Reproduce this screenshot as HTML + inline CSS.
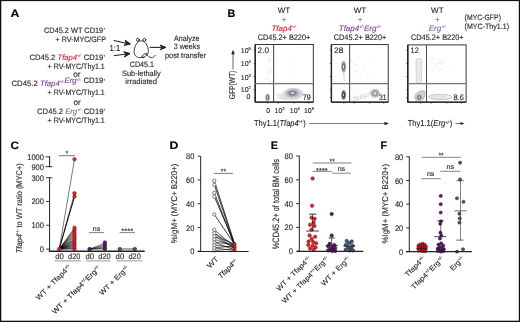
<!DOCTYPE html>
<html><head><meta charset="utf-8"><style>
html,body{margin:0;padding:0;background:#fff;}
svg{display:block;will-change:transform;}
text{font-family:"Liberation Sans", sans-serif;stroke-width:0.12px;}
</style></head><body>
<svg width="520" height="322" viewBox="0 0 520 322" font-family="Liberation Sans, sans-serif" text-rendering="geometricPrecision">
<defs>
<radialGradient id="gA" cx="0.5" cy="0.5" r="0.5">
<stop offset="0" stop-color="#eeeff0"/><stop offset="0.14" stop-color="#e3e5e7"/><stop offset="0.34" stop-color="#646c76"/><stop offset="0.55" stop-color="#838a93"/><stop offset="0.78" stop-color="#a8aeb5"/><stop offset="0.93" stop-color="#c3c7cc"/><stop offset="1" stop-color="#d6d9dc"/>
</radialGradient>
<radialGradient id="gD" cx="0.5" cy="0.5" r="0.5">
<stop offset="0" stop-color="#d9dbdd"/><stop offset="0.12" stop-color="#c8cbce"/><stop offset="0.32" stop-color="#3d434a"/><stop offset="0.6" stop-color="#555c64"/><stop offset="0.85" stop-color="#838a92"/><stop offset="1" stop-color="#adb2b8"/>
</radialGradient>
<radialGradient id="gB" cx="0.5" cy="0.5" r="0.5">
<stop offset="0" stop-color="#eff0f1"/><stop offset="0.15" stop-color="#e5e7e9"/><stop offset="0.36" stop-color="#8c939b"/><stop offset="0.6" stop-color="#a8aeb5"/><stop offset="0.85" stop-color="#cacdd1"/><stop offset="1" stop-color="#e3e5e7"/>
</radialGradient>
<radialGradient id="gC" cx="0.5" cy="0.5" r="0.5">
<stop offset="0" stop-color="#f3f4f5"/><stop offset="0.1" stop-color="#eceef0"/><stop offset="0.26" stop-color="#737b85"/><stop offset="0.45" stop-color="#959ca4"/><stop offset="0.7" stop-color="#b8bdc3"/><stop offset="0.9" stop-color="#ced2d6"/><stop offset="1" stop-color="#dbdee1"/>
</radialGradient>
<linearGradient id="gE" x1="0" y1="0" x2="1" y2="0">
<stop offset="0" stop-color="#e6e9ec"/><stop offset="1" stop-color="#cdd3d9"/>
</linearGradient>
</defs>
<rect width="520" height="322" fill="#fff"/>
<rect x="0" y="0" width="520" height="1.1" fill="#111"/>
<rect x="0" y="0" width="1.3" height="322" fill="#111"/>
<rect x="518.8" y="0" width="1.2" height="322" fill="#111"/>
<rect x="0" y="320.7" width="520" height="1.3" fill="#111"/>
<text x="10.6" y="17" font-size="10.8" font-weight="bold" fill="#000" textLength="8.9" lengthAdjust="spacingAndGlyphs" stroke="#000">A</text>
<text x="227.6" y="17" font-size="10.8" font-weight="bold" fill="#000" textLength="7.8" lengthAdjust="spacingAndGlyphs" stroke="#000">B</text>
<text x="10.4" y="149" font-size="10.8" font-weight="bold" fill="#000" textLength="8.5" lengthAdjust="spacingAndGlyphs" stroke="#000">C</text>
<text x="169.6" y="149" font-size="10.8" font-weight="bold" fill="#000" textLength="8.9" lengthAdjust="spacingAndGlyphs" stroke="#000">D</text>
<text x="270.8" y="149" font-size="10.8" font-weight="bold" fill="#000" textLength="7.2" lengthAdjust="spacingAndGlyphs" stroke="#000">E</text>
<text x="380.4" y="149" font-size="10.8" font-weight="bold" fill="#000" textLength="6.6" lengthAdjust="spacingAndGlyphs" stroke="#000">F</text>
<g font-size="7.8" fill="#231f20" stroke="#231f20">
<text x="44.0" y="33.0" textLength="61.4" lengthAdjust="spacingAndGlyphs">CD45.2 WT CD19<tspan dy="-2.7" font-size="4">+</tspan><tspan dy="2.7"></tspan></text>
<text x="55.5" y="42.0" textLength="50.5" lengthAdjust="spacingAndGlyphs">+ RV-MYC/GFP</text>
<text x="29.5" y="60.0" textLength="76.1" lengthAdjust="spacingAndGlyphs">CD45.2 <tspan font-style="italic" fill="#d4213d" stroke="#d4213d">Tfap4</tspan><tspan fill="#d4213d" stroke="#d4213d" dy="-2.7" font-size="4">+/-</tspan><tspan dy="2.7"> CD19</tspan><tspan dy="-2.7" font-size="4">+</tspan><tspan dy="2.7"></tspan></text>
<text x="47.6" y="69.0" textLength="57.2" lengthAdjust="spacingAndGlyphs">+ RV-MYC/Thy1.1</text>
<text x="11.5" y="86.0" textLength="94.1" lengthAdjust="spacingAndGlyphs">CD45.2 <tspan font-style="italic" fill="#7a3f97" stroke="#7a3f97">Tfap4</tspan><tspan fill="#7a3f97" stroke="#7a3f97" dy="-2.7" font-size="4">+/-</tspan><tspan dy="2.7"></tspan><tspan font-style="italic" fill="#7a3f97" stroke="#7a3f97">Erg</tspan><tspan fill="#7a3f97" stroke="#7a3f97" dy="-2.7" font-size="4">+/-</tspan><tspan dy="2.7"> CD19</tspan><tspan dy="-2.7" font-size="4">+</tspan><tspan dy="2.7"></tspan></text>
<text x="47.6" y="95.0" textLength="57.2" lengthAdjust="spacingAndGlyphs">+ RV-MYC/Thy1.1</text>
<text x="37.1" y="114.0" textLength="68.6" lengthAdjust="spacingAndGlyphs">CD45.2 <tspan font-style="italic" fill="#5f7691" stroke="#5f7691">Erg</tspan><tspan fill="#5f7691" stroke="#5f7691" dy="-2.7" font-size="4">+/-</tspan><tspan dy="2.7"> CD19</tspan><tspan dy="-2.7" font-size="4">+</tspan><tspan dy="2.7"></tspan></text>
<text x="47.6" y="123.0" textLength="57.2" lengthAdjust="spacingAndGlyphs">+ RV-MYC/Thy1.1</text>
<text x="76.8" y="77" text-anchor="middle" font-size="8.2">or</text>
<text x="77.1" y="105" text-anchor="middle" font-size="8.2">or</text>
<text x="109.6" y="51.4" font-size="8.6" textLength="10.6" lengthAdjust="spacingAndGlyphs">1:1</text>
<line x1="113.7" y1="40.6" x2="126.27" y2="43.14" stroke="#231f20" stroke-width="1.05"/>
<path d="M130.5,44.0 L124.08,45.46 L126.27,43.14 L125.15,40.16 Z" fill="#231f20"/>
<line x1="113.7" y1="55.8" x2="125.82" y2="54.10" stroke="#231f20" stroke-width="1.05"/>
<path d="M130.1,53.5 L124.53,57.01 L125.82,54.10 L123.78,51.66 Z" fill="#231f20"/>
<line x1="149.6" y1="47.4" x2="161.87" y2="47.40" stroke="#231f20" stroke-width="1.05"/>
<path d="M165.9,47.4 L160.30,49.70 L161.87,47.40 L160.30,45.10 Z" fill="#231f20"/>
<g fill="none" stroke="#231f20" stroke-width="0.85" stroke-linecap="round">
<path d="M138.6,41.3 C136.2,43.2 134.2,47.2 134.1,51.4 C134.0,55.2 136.3,57.6 140.0,57.6 C141.6,57.6 142.6,57.4 143.6,57.1"/>
<path d="M138.6,41.3 C140.3,40.7 142.0,40.7 143.6,41.3 C146.4,43.0 148.0,46.5 148.3,50.2 C148.5,52.4 148.0,54.0 147.0,54.8"/>
<circle cx="137.8" cy="39.8" r="1.45"/><circle cx="144.4" cy="39.8" r="1.45"/>
<ellipse cx="144.3" cy="55.6" rx="2.9" ry="1.35" transform="rotate(-38 144.3 55.6)"/>
<path d="M146.6,54.3 C147.6,55.8 149.3,57.6 151.3,57.6 C153.0,57.6 154.3,56.6 155.3,55.4"/>
</g>
<text x="129.8" y="66.9" textLength="24.2" lengthAdjust="spacingAndGlyphs">CD45.1</text>
<text x="122.1" y="75.8" textLength="38.5" lengthAdjust="spacingAndGlyphs">Sub-lethally</text>
<text x="125.2" y="83.8" textLength="31.9" lengthAdjust="spacingAndGlyphs">irradiated</text>
<text x="173.9" y="40.5" textLength="25.6" lengthAdjust="spacingAndGlyphs">Analyze</text>
<text x="173.7" y="49.2" textLength="26.3" lengthAdjust="spacingAndGlyphs">3 weeks</text>
<text x="165.0" y="57.6" textLength="41.2" lengthAdjust="spacingAndGlyphs">post transfer</text>
</g>
<g font-size="8.0" fill="#231f20" text-anchor="middle" stroke="#231f20">
<text x="284.0" y="13.0">WT</text>
<text x="284.0" y="21.6" font-size="7.2" fill="#777" stroke="#777">+</text>
<text x="284.0" y="30.8" font-style="italic" fill="#d4213d" stroke="#d4213d">Tfap4<tspan dy="-2.6" font-size="4.0">+/-</tspan><tspan dy="2.6"> </tspan></text>
<text x="284.0" y="39.7" textLength="52.5" lengthAdjust="spacingAndGlyphs">CD45.2+ B220+</text>
<text x="360.0" y="13.0">WT</text>
<text x="360.0" y="21.6" font-size="7.2" fill="#777" stroke="#777">+</text>
<text x="360.0" y="30.8" font-style="italic" fill="#7a3f97" stroke="#7a3f97">Tfap4<tspan dy="-2.6" font-size="4">+/-</tspan><tspan dy="2.6">Erg</tspan><tspan dy="-2.6" font-size="4">+/-</tspan><tspan dy="2.6"></tspan></text>
<text x="360.0" y="39.7" textLength="52.5" lengthAdjust="spacingAndGlyphs">CD45.2+ B220+</text>
<text x="437.3" y="13.0">WT</text>
<text x="437.3" y="21.6" font-size="7.2" fill="#777" stroke="#777">+</text>
<text x="437.3" y="30.8" font-style="italic" fill="#5f7691" stroke="#5f7691">Erg<tspan dy="-2.6" font-size="4.0">+/-</tspan><tspan dy="2.6"> </tspan></text>
<text x="437.3" y="39.7" textLength="52.5" lengthAdjust="spacingAndGlyphs">CD45.2+ B220+</text>
</g>
<text x="464.6" y="20.0" font-size="7.8" fill="#231f20" textLength="36.4" lengthAdjust="spacingAndGlyphs" stroke="#231f20">(MYC-GFP)</text>
<text x="464.6" y="28.8" font-size="7.8" fill="#231f20" textLength="44.4" lengthAdjust="spacingAndGlyphs" stroke="#231f20">(MYC-Thy1.1)</text>
<rect x="267.2" y="71.6" width="0.6" height="0.6" fill="#d0d6dc"/>
<rect x="267.8" y="73.1" width="0.6" height="0.6" fill="#d0d6dc"/>
<rect x="269.1" y="59.6" width="0.6" height="0.6" fill="#d0d6dc"/>
<rect x="266.1" y="78.9" width="0.6" height="0.6" fill="#d0d6dc"/>
<rect x="267.3" y="63.9" width="0.6" height="0.6" fill="#d0d6dc"/>
<rect x="271.0" y="69.8" width="0.6" height="0.6" fill="#d0d6dc"/>
<rect x="270.2" y="69.9" width="0.6" height="0.6" fill="#d0d6dc"/>
<rect x="269.2" y="61.8" width="0.6" height="0.6" fill="#d0d6dc"/>
<rect x="269.2" y="79.7" width="0.6" height="0.6" fill="#d0d6dc"/>
<rect x="268.6" y="76.5" width="0.6" height="0.6" fill="#d0d6dc"/>
<rect x="269.4" y="59.6" width="0.6" height="0.6" fill="#d0d6dc"/>
<rect x="269.8" y="72.8" width="0.6" height="0.6" fill="#d0d6dc"/>
<rect x="267.5" y="58.8" width="0.6" height="0.6" fill="#d0d6dc"/>
<rect x="270.3" y="69.8" width="0.6" height="0.6" fill="#d0d6dc"/>
<rect x="269.6" y="80.0" width="0.6" height="0.6" fill="#d0d6dc"/>
<rect x="269.6" y="81.0" width="0.6" height="0.6" fill="#d0d6dc"/>
<rect x="268.0" y="78.0" width="0.6" height="0.6" fill="#d0d6dc"/>
<rect x="268.2" y="81.4" width="0.6" height="0.6" fill="#d0d6dc"/>
<rect x="270.4" y="60.4" width="0.6" height="0.6" fill="#d0d6dc"/>
<rect x="266.7" y="63.4" width="0.6" height="0.6" fill="#d0d6dc"/>
<rect x="270.8" y="68.9" width="0.6" height="0.6" fill="#d0d6dc"/>
<rect x="269.1" y="65.5" width="0.6" height="0.6" fill="#d0d6dc"/>
<rect x="268.5" y="67.6" width="0.6" height="0.6" fill="#d0d6dc"/>
<rect x="267.8" y="72.6" width="0.6" height="0.6" fill="#d0d6dc"/>
<rect x="268.9" y="80.6" width="0.6" height="0.6" fill="#d0d6dc"/>
<rect x="269.4" y="81.2" width="0.6" height="0.6" fill="#d0d6dc"/>
<rect x="270.3" y="82.8" width="0.6" height="0.6" fill="#d0d6dc"/>
<rect x="269.4" y="62.1" width="0.6" height="0.6" fill="#d0d6dc"/>
<rect x="270.3" y="82.1" width="0.6" height="0.6" fill="#d0d6dc"/>
<rect x="270.5" y="72.2" width="0.6" height="0.6" fill="#d0d6dc"/>
<rect x="269.6" y="63.3" width="0.6" height="0.6" fill="#d0d6dc"/>
<rect x="270.2" y="72.3" width="0.6" height="0.6" fill="#d0d6dc"/>
<rect x="267.4" y="59.6" width="0.6" height="0.6" fill="#d0d6dc"/>
<rect x="270.3" y="82.7" width="0.6" height="0.6" fill="#d0d6dc"/>
<rect x="266.4" y="78.0" width="0.6" height="0.6" fill="#d0d6dc"/>
<rect x="268.1" y="61.8" width="0.6" height="0.6" fill="#d0d6dc"/>
<rect x="267.5" y="77.2" width="0.6" height="0.6" fill="#d0d6dc"/>
<rect x="270.4" y="59.1" width="0.6" height="0.6" fill="#d0d6dc"/>
<rect x="269.1" y="59.1" width="0.6" height="0.6" fill="#d0d6dc"/>
<rect x="269.6" y="66.3" width="0.6" height="0.6" fill="#d0d6dc"/>
<rect x="270.4" y="82.5" width="0.6" height="0.6" fill="#d0d6dc"/>
<rect x="268.5" y="83.0" width="0.6" height="0.6" fill="#d0d6dc"/>
<rect x="267.5" y="59.9" width="0.6" height="0.6" fill="#d0d6dc"/>
<rect x="269.0" y="58.8" width="0.6" height="0.6" fill="#d0d6dc"/>
<rect x="267.0" y="68.2" width="0.6" height="0.6" fill="#d0d6dc"/>
<rect x="269.1" y="61.9" width="0.6" height="0.6" fill="#d0d6dc"/>
<rect x="266.2" y="79.7" width="0.6" height="0.6" fill="#d0d6dc"/>
<rect x="267.6" y="82.0" width="0.6" height="0.6" fill="#d0d6dc"/>
<rect x="270.5" y="67.4" width="0.6" height="0.6" fill="#d0d6dc"/>
<rect x="268.3" y="71.0" width="0.6" height="0.6" fill="#d0d6dc"/>
<rect x="269.2" y="72.9" width="0.6" height="0.6" fill="#d0d6dc"/>
<rect x="268.8" y="73.5" width="0.6" height="0.6" fill="#d0d6dc"/>
<rect x="270.7" y="70.7" width="0.6" height="0.6" fill="#d0d6dc"/>
<rect x="268.2" y="76.0" width="0.6" height="0.6" fill="#d0d6dc"/>
<rect x="267.2" y="65.5" width="0.6" height="0.6" fill="#d0d6dc"/>
<rect x="297.5" y="70.4" width="0.6" height="0.6" fill="#dde1e6"/>
<rect x="288.1" y="60.2" width="0.6" height="0.6" fill="#dde1e6"/>
<rect x="285.1" y="71.6" width="0.6" height="0.6" fill="#dde1e6"/>
<rect x="276.4" y="72.3" width="0.6" height="0.6" fill="#dde1e6"/>
<rect x="289.9" y="61.2" width="0.6" height="0.6" fill="#dde1e6"/>
<rect x="289.8" y="69.3" width="0.6" height="0.6" fill="#dde1e6"/>
<rect x="290.9" y="67.1" width="0.6" height="0.6" fill="#dde1e6"/>
<rect x="291.6" y="74.8" width="0.6" height="0.6" fill="#dde1e6"/>
<rect x="276.5" y="61.2" width="0.6" height="0.6" fill="#dde1e6"/>
<rect x="290.9" y="79.3" width="0.6" height="0.6" fill="#dde1e6"/>
<rect x="281.5" y="69.1" width="0.6" height="0.6" fill="#dde1e6"/>
<rect x="289.0" y="66.4" width="0.6" height="0.6" fill="#dde1e6"/>
<rect x="284.0" y="66.3" width="0.6" height="0.6" fill="#dde1e6"/>
<rect x="284.1" y="71.9" width="0.6" height="0.6" fill="#dde1e6"/>
<rect x="278.3" y="95.0" width="0.6" height="0.6" fill="#c9d0d7"/>
<rect x="283.5" y="92.2" width="0.6" height="0.6" fill="#c9d0d7"/>
<rect x="281.3" y="97.9" width="0.6" height="0.6" fill="#c9d0d7"/>
<rect x="278.4" y="93.8" width="0.6" height="0.6" fill="#c9d0d7"/>
<rect x="283.8" y="93.9" width="0.6" height="0.6" fill="#c9d0d7"/>
<rect x="277.1" y="95.5" width="0.6" height="0.6" fill="#c9d0d7"/>
<rect x="282.7" y="92.8" width="0.6" height="0.6" fill="#c9d0d7"/>
<rect x="278.5" y="94.7" width="0.6" height="0.6" fill="#c9d0d7"/>
<rect x="284.2" y="95.5" width="0.6" height="0.6" fill="#c9d0d7"/>
<rect x="284.4" y="93.4" width="0.6" height="0.6" fill="#c9d0d7"/>
<rect x="278.7" y="97.2" width="0.6" height="0.6" fill="#c9d0d7"/>
<rect x="284.7" y="95.6" width="0.6" height="0.6" fill="#c9d0d7"/>
<rect x="277.5" y="93.0" width="0.6" height="0.6" fill="#c9d0d7"/>
<rect x="280.8" y="93.5" width="0.6" height="0.6" fill="#c9d0d7"/>
<rect x="283.9" y="98.7" width="0.6" height="0.6" fill="#c9d0d7"/>
<rect x="277.0" y="94.2" width="0.6" height="0.6" fill="#c9d0d7"/>
<rect x="283.9" y="97.1" width="0.6" height="0.6" fill="#c9d0d7"/>
<rect x="283.9" y="94.8" width="0.6" height="0.6" fill="#c9d0d7"/>
<rect x="276.4" y="94.3" width="0.6" height="0.6" fill="#c9d0d7"/>
<rect x="283.7" y="94.2" width="0.6" height="0.6" fill="#c9d0d7"/>
<rect x="278.8" y="95.3" width="0.6" height="0.6" fill="#c9d0d7"/>
<rect x="279.6" y="95.3" width="0.6" height="0.6" fill="#c9d0d7"/>
<rect x="285.1" y="93.2" width="0.6" height="0.6" fill="#c9d0d7"/>
<rect x="275.1" y="99.5" width="0.6" height="0.6" fill="#c9d0d7"/>
<rect x="284.7" y="99.9" width="0.6" height="0.6" fill="#c9d0d7"/>
<path d="M276.0,97.8 C279,95.5 283,90.8 288.5,88.6 C294,87 301.5,88.3 303.0,92.3 C304.2,96.5 298.5,100.0 291.5,100.1 C285,100.2 279.5,99.4 276.0,97.8 Z" fill="url(#gE)"/>
<ellipse cx="292.6" cy="93.2" rx="8.6" ry="5.2" fill="url(#gC)" opacity="1.0" transform="rotate(-4 292.6 93.2)"/>
<ellipse cx="267.6" cy="97.4" rx="2.5" ry="4.0" fill="url(#gA)" opacity="1.0"/>
<rect x="255.2" y="44.5" width="58.10000000000002" height="57.7" fill="none" stroke="#231f20" stroke-width="0.9"/>
<line x1="255.2" y1="44.5" x2="255.2" y2="102.2" stroke="#231f20" stroke-width="1.4"/>
<line x1="255.2" y1="102.2" x2="313.3" y2="102.2" stroke="#231f20" stroke-width="1.2"/>
<line x1="273.6" y1="44.5" x2="273.6" y2="102.2" stroke="#4a4a4a" stroke-width="1.05"/>
<line x1="255.2" y1="83.7" x2="313.3" y2="83.7" stroke="#777" stroke-width="1.2"/>
<line x1="253.6" y1="50.2" x2="255.2" y2="50.2" stroke="#231f20" stroke-width="0.6"/>
<line x1="253.6" y1="63.4" x2="255.2" y2="63.4" stroke="#231f20" stroke-width="0.6"/>
<line x1="253.6" y1="76.6" x2="255.2" y2="76.6" stroke="#231f20" stroke-width="0.6"/>
<line x1="253.6" y1="89.8" x2="255.2" y2="89.8" stroke="#231f20" stroke-width="0.6"/>
<line x1="253.6" y1="97.6" x2="255.2" y2="97.6" stroke="#231f20" stroke-width="0.6"/>
<line x1="268.0" y1="102.2" x2="268.0" y2="103.7" stroke="#231f20" stroke-width="0.6"/>
<line x1="278.4" y1="102.2" x2="278.4" y2="103.7" stroke="#231f20" stroke-width="0.6"/>
<line x1="294.1" y1="102.2" x2="294.1" y2="103.7" stroke="#231f20" stroke-width="0.6"/>
<line x1="308.7" y1="102.2" x2="308.7" y2="103.7" stroke="#231f20" stroke-width="0.6"/>
<rect x="360.1" y="78.9" width="0.6" height="0.6" fill="#d5dae0"/>
<rect x="370.5" y="62.9" width="0.6" height="0.6" fill="#d5dae0"/>
<rect x="366.7" y="76.4" width="0.6" height="0.6" fill="#d5dae0"/>
<rect x="364.9" y="69.4" width="0.6" height="0.6" fill="#d5dae0"/>
<rect x="357.1" y="65.5" width="0.6" height="0.6" fill="#d5dae0"/>
<rect x="355.8" y="59.5" width="0.6" height="0.6" fill="#d5dae0"/>
<rect x="363.4" y="64.3" width="0.6" height="0.6" fill="#d5dae0"/>
<rect x="368.0" y="59.0" width="0.6" height="0.6" fill="#d5dae0"/>
<rect x="370.0" y="73.3" width="0.6" height="0.6" fill="#d5dae0"/>
<rect x="370.4" y="77.7" width="0.6" height="0.6" fill="#d5dae0"/>
<rect x="369.9" y="70.7" width="0.6" height="0.6" fill="#d5dae0"/>
<rect x="351.3" y="74.4" width="0.6" height="0.6" fill="#d5dae0"/>
<rect x="354.6" y="64.6" width="0.6" height="0.6" fill="#d5dae0"/>
<rect x="364.9" y="69.5" width="0.6" height="0.6" fill="#d5dae0"/>
<rect x="359.7" y="78.7" width="0.6" height="0.6" fill="#d5dae0"/>
<rect x="363.9" y="65.5" width="0.6" height="0.6" fill="#d5dae0"/>
<rect x="356.3" y="77.0" width="0.6" height="0.6" fill="#d5dae0"/>
<rect x="361.0" y="75.2" width="0.6" height="0.6" fill="#d5dae0"/>
<rect x="353.5" y="61.6" width="0.6" height="0.6" fill="#cfd4d9"/>
<rect x="355.3" y="72.7" width="0.6" height="0.6" fill="#cfd4d9"/>
<rect x="351.7" y="72.3" width="0.6" height="0.6" fill="#cfd4d9"/>
<rect x="359.2" y="72.5" width="0.6" height="0.6" fill="#cfd4d9"/>
<rect x="358.2" y="58.1" width="0.6" height="0.6" fill="#cfd4d9"/>
<rect x="356.3" y="73.5" width="0.6" height="0.6" fill="#cfd4d9"/>
<rect x="350.5" y="62.9" width="0.6" height="0.6" fill="#cfd4d9"/>
<rect x="352.7" y="67.5" width="0.6" height="0.6" fill="#cfd4d9"/>
<rect x="354.2" y="66.5" width="0.6" height="0.6" fill="#cfd4d9"/>
<rect x="357.8" y="58.0" width="0.6" height="0.6" fill="#cfd4d9"/>
<rect x="350.5" y="60.3" width="0.6" height="0.6" fill="#cfd4d9"/>
<rect x="351.2" y="59.2" width="0.6" height="0.6" fill="#cfd4d9"/>
<rect x="359.7" y="73.4" width="0.6" height="0.6" fill="#cfd4d9"/>
<rect x="350.9" y="67.0" width="0.6" height="0.6" fill="#cfd4d9"/>
<rect x="353.2" y="63.7" width="0.6" height="0.6" fill="#cfd4d9"/>
<rect x="353.5" y="69.6" width="0.6" height="0.6" fill="#cfd4d9"/>
<rect x="355.9" y="64.5" width="0.6" height="0.6" fill="#cfd4d9"/>
<rect x="351.9" y="63.9" width="0.6" height="0.6" fill="#cfd4d9"/>
<rect x="351.2" y="68.0" width="0.6" height="0.6" fill="#cfd4d9"/>
<rect x="357.2" y="64.8" width="0.6" height="0.6" fill="#cfd4d9"/>
<rect x="350.8" y="61.2" width="0.6" height="0.6" fill="#cfd4d9"/>
<rect x="353.7" y="68.9" width="0.6" height="0.6" fill="#cfd4d9"/>
<rect x="357.8" y="64.8" width="0.6" height="0.6" fill="#cfd4d9"/>
<rect x="358.0" y="69.2" width="0.6" height="0.6" fill="#cfd4d9"/>
<rect x="354.3" y="64.7" width="0.6" height="0.6" fill="#cfd4d9"/>
<rect x="355.0" y="70.7" width="0.6" height="0.6" fill="#cfd4d9"/>
<rect x="354.2" y="70.5" width="0.6" height="0.6" fill="#cfd4d9"/>
<rect x="354.6" y="62.4" width="0.6" height="0.6" fill="#cfd4d9"/>
<rect x="355.4" y="70.5" width="0.6" height="0.6" fill="#cfd4d9"/>
<rect x="350.7" y="65.6" width="0.6" height="0.6" fill="#cfd4d9"/>
<rect x="359.9" y="98.3" width="0.6" height="0.6" fill="#cfd5dc"/>
<rect x="370.7" y="91.2" width="0.6" height="0.6" fill="#cfd5dc"/>
<rect x="369.9" y="97.1" width="0.6" height="0.6" fill="#cfd5dc"/>
<rect x="356.5" y="92.5" width="0.6" height="0.6" fill="#cfd5dc"/>
<rect x="353.6" y="97.4" width="0.6" height="0.6" fill="#cfd5dc"/>
<rect x="364.9" y="98.4" width="0.6" height="0.6" fill="#cfd5dc"/>
<rect x="367.6" y="95.3" width="0.6" height="0.6" fill="#cfd5dc"/>
<rect x="366.4" y="93.9" width="0.6" height="0.6" fill="#cfd5dc"/>
<rect x="353.2" y="94.2" width="0.6" height="0.6" fill="#cfd5dc"/>
<rect x="351.1" y="88.0" width="0.6" height="0.6" fill="#cfd5dc"/>
<rect x="367.3" y="86.6" width="0.6" height="0.6" fill="#cfd5dc"/>
<rect x="352.9" y="87.4" width="0.6" height="0.6" fill="#cfd5dc"/>
<rect x="369.5" y="88.5" width="0.6" height="0.6" fill="#cfd5dc"/>
<rect x="351.5" y="97.8" width="0.6" height="0.6" fill="#cfd5dc"/>
<rect x="353.5" y="97.8" width="0.6" height="0.6" fill="#cfd5dc"/>
<rect x="365.1" y="97.7" width="0.6" height="0.6" fill="#cfd5dc"/>
<rect x="371.0" y="94.1" width="0.6" height="0.6" fill="#cfd5dc"/>
<rect x="367.8" y="86.5" width="0.6" height="0.6" fill="#cfd5dc"/>
<rect x="367.1" y="93.2" width="0.6" height="0.6" fill="#cfd5dc"/>
<rect x="366.0" y="87.5" width="0.6" height="0.6" fill="#cfd5dc"/>
<rect x="366.7" y="99.1" width="0.6" height="0.6" fill="#cfd5dc"/>
<rect x="352.3" y="90.5" width="0.6" height="0.6" fill="#cfd5dc"/>
<rect x="362.8" y="97.6" width="0.6" height="0.6" fill="#cfd5dc"/>
<rect x="356.1" y="88.5" width="0.6" height="0.6" fill="#cfd5dc"/>
<rect x="356.2" y="94.6" width="0.6" height="0.6" fill="#cfd5dc"/>
<rect x="366.8" y="91.5" width="0.6" height="0.6" fill="#cfd5dc"/>
<rect x="358.7" y="91.6" width="0.6" height="0.6" fill="#cfd5dc"/>
<rect x="358.4" y="91.9" width="0.6" height="0.6" fill="#cfd5dc"/>
<rect x="352.7" y="93.0" width="0.6" height="0.6" fill="#cfd5dc"/>
<rect x="371.4" y="91.8" width="0.6" height="0.6" fill="#cfd5dc"/>
<rect x="366.7" y="88.2" width="0.6" height="0.6" fill="#cfd5dc"/>
<rect x="365.5" y="96.6" width="0.6" height="0.6" fill="#cfd5dc"/>
<rect x="365.2" y="93.2" width="0.6" height="0.6" fill="#cfd5dc"/>
<rect x="361.2" y="95.0" width="0.6" height="0.6" fill="#cfd5dc"/>
<rect x="369.8" y="88.1" width="0.6" height="0.6" fill="#cfd5dc"/>
<rect x="353.0" y="96.5" width="0.6" height="0.6" fill="#cfd5dc"/>
<rect x="370.2" y="93.2" width="0.6" height="0.6" fill="#cfd5dc"/>
<rect x="360.3" y="96.1" width="0.6" height="0.6" fill="#cfd5dc"/>
<rect x="354.9" y="89.7" width="0.6" height="0.6" fill="#cfd5dc"/>
<rect x="355.2" y="94.2" width="0.6" height="0.6" fill="#cfd5dc"/>
<rect x="357.6" y="89.3" width="0.6" height="0.6" fill="#cfd5dc"/>
<rect x="365.5" y="99.3" width="0.6" height="0.6" fill="#cfd5dc"/>
<rect x="357.2" y="95.9" width="0.6" height="0.6" fill="#cfd5dc"/>
<rect x="359.7" y="98.0" width="0.6" height="0.6" fill="#cfd5dc"/>
<rect x="363.3" y="89.7" width="0.6" height="0.6" fill="#cfd5dc"/>
<path d="M343.6,72 L344.4,81" stroke="#d9dee4" stroke-width="1.4"/>
<rect x="355.4" y="95.8" width="0.8" height="0.8" fill="#cdd3d9"/>
<rect x="360.6" y="96.0" width="0.8" height="0.8" fill="#cdd3d9"/>
<rect x="354.4" y="97.8" width="0.8" height="0.8" fill="#cdd3d9"/>
<rect x="357.4" y="98.9" width="0.8" height="0.8" fill="#cdd3d9"/>
<rect x="353.9" y="101.1" width="0.8" height="0.8" fill="#cdd3d9"/>
<rect x="360.6" y="97.1" width="0.8" height="0.8" fill="#cdd3d9"/>
<rect x="360.4" y="98.4" width="0.8" height="0.8" fill="#cdd3d9"/>
<rect x="367.4" y="94.9" width="0.8" height="0.8" fill="#cdd3d9"/>
<rect x="360.6" y="97.7" width="0.8" height="0.8" fill="#cdd3d9"/>
<rect x="368.1" y="93.9" width="0.8" height="0.8" fill="#cdd3d9"/>
<rect x="365.7" y="97.4" width="0.8" height="0.8" fill="#cdd3d9"/>
<rect x="360.3" y="95.3" width="0.8" height="0.8" fill="#cdd3d9"/>
<rect x="355.7" y="99.2" width="0.8" height="0.8" fill="#cdd3d9"/>
<rect x="364.5" y="97.7" width="0.8" height="0.8" fill="#cdd3d9"/>
<rect x="368.1" y="93.1" width="0.8" height="0.8" fill="#cdd3d9"/>
<rect x="354.8" y="97.2" width="0.8" height="0.8" fill="#cdd3d9"/>
<rect x="354.7" y="99.4" width="0.8" height="0.8" fill="#cdd3d9"/>
<rect x="368.2" y="96.3" width="0.8" height="0.8" fill="#cdd3d9"/>
<rect x="356.1" y="99.8" width="0.8" height="0.8" fill="#cdd3d9"/>
<rect x="357.3" y="97.2" width="0.8" height="0.8" fill="#cdd3d9"/>
<rect x="365.6" y="93.1" width="0.8" height="0.8" fill="#cdd3d9"/>
<rect x="352.9" y="100.6" width="0.8" height="0.8" fill="#cdd3d9"/>
<rect x="356.8" y="97.0" width="0.8" height="0.8" fill="#cdd3d9"/>
<rect x="362.6" y="96.9" width="0.8" height="0.8" fill="#cdd3d9"/>
<rect x="351.1" y="98.6" width="0.8" height="0.8" fill="#cdd3d9"/>
<rect x="359.7" y="96.8" width="0.8" height="0.8" fill="#cdd3d9"/>
<rect x="355.2" y="98.7" width="0.8" height="0.8" fill="#cdd3d9"/>
<rect x="370.1" y="93.2" width="0.8" height="0.8" fill="#cdd3d9"/>
<rect x="361.9" y="94.3" width="0.8" height="0.8" fill="#cdd3d9"/>
<rect x="356.5" y="98.7" width="0.8" height="0.8" fill="#cdd3d9"/>
<rect x="353.3" y="100.8" width="0.8" height="0.8" fill="#cdd3d9"/>
<rect x="369.2" y="92.0" width="0.8" height="0.8" fill="#cdd3d9"/>
<rect x="369.8" y="93.2" width="0.8" height="0.8" fill="#cdd3d9"/>
<rect x="366.4" y="96.2" width="0.8" height="0.8" fill="#cdd3d9"/>
<rect x="356.9" y="98.6" width="0.8" height="0.8" fill="#cdd3d9"/>
<rect x="364.1" y="97.1" width="0.8" height="0.8" fill="#cdd3d9"/>
<rect x="356.3" y="99.2" width="0.8" height="0.8" fill="#cdd3d9"/>
<rect x="370.2" y="94.6" width="0.8" height="0.8" fill="#cdd3d9"/>
<rect x="361.7" y="94.3" width="0.8" height="0.8" fill="#cdd3d9"/>
<rect x="360.9" y="95.8" width="0.8" height="0.8" fill="#cdd3d9"/>
<rect x="365.4" y="96.1" width="0.8" height="0.8" fill="#cdd3d9"/>
<rect x="362.3" y="94.5" width="0.8" height="0.8" fill="#cdd3d9"/>
<rect x="363.9" y="96.3" width="0.8" height="0.8" fill="#cdd3d9"/>
<rect x="354.6" y="100.4" width="0.8" height="0.8" fill="#cdd3d9"/>
<rect x="364.1" y="93.7" width="0.8" height="0.8" fill="#cdd3d9"/>
<rect x="369.6" y="92.1" width="0.8" height="0.8" fill="#cdd3d9"/>
<rect x="357.6" y="98.6" width="0.8" height="0.8" fill="#cdd3d9"/>
<rect x="362.9" y="96.2" width="0.8" height="0.8" fill="#cdd3d9"/>
<rect x="363.9" y="95.4" width="0.8" height="0.8" fill="#cdd3d9"/>
<rect x="357.2" y="96.0" width="0.8" height="0.8" fill="#cdd3d9"/>
<rect x="352.4" y="100.2" width="0.8" height="0.8" fill="#cdd3d9"/>
<rect x="366.1" y="95.2" width="0.8" height="0.8" fill="#cdd3d9"/>
<rect x="365.8" y="94.4" width="0.8" height="0.8" fill="#cdd3d9"/>
<rect x="356.3" y="97.3" width="0.8" height="0.8" fill="#cdd3d9"/>
<rect x="368.5" y="92.0" width="0.8" height="0.8" fill="#cdd3d9"/>
<rect x="361.1" y="95.2" width="0.8" height="0.8" fill="#cdd3d9"/>
<rect x="366.4" y="94.2" width="0.8" height="0.8" fill="#cdd3d9"/>
<rect x="357.7" y="97.0" width="0.8" height="0.8" fill="#cdd3d9"/>
<rect x="361.8" y="97.6" width="0.8" height="0.8" fill="#cdd3d9"/>
<rect x="358.1" y="99.1" width="0.8" height="0.8" fill="#cdd3d9"/>
<rect x="353.2" y="97.7" width="0.8" height="0.8" fill="#cdd3d9"/>
<rect x="353.0" y="97.0" width="0.8" height="0.8" fill="#cdd3d9"/>
<rect x="366.6" y="96.0" width="0.8" height="0.8" fill="#cdd3d9"/>
<rect x="354.7" y="96.8" width="0.8" height="0.8" fill="#cdd3d9"/>
<rect x="359.3" y="98.2" width="0.8" height="0.8" fill="#cdd3d9"/>
<rect x="367.3" y="95.8" width="0.8" height="0.8" fill="#cdd3d9"/>
<rect x="362.8" y="94.2" width="0.8" height="0.8" fill="#cdd3d9"/>
<rect x="359.0" y="95.6" width="0.8" height="0.8" fill="#cdd3d9"/>
<rect x="361.6" y="96.7" width="0.8" height="0.8" fill="#cdd3d9"/>
<rect x="355.0" y="97.0" width="0.8" height="0.8" fill="#cdd3d9"/>
<ellipse cx="343.6" cy="66.8" rx="2.7" ry="6.3" fill="url(#gA)" opacity="1.0"/>
<ellipse cx="343.6" cy="95.0" rx="2.5" ry="5.0" fill="url(#gD)" opacity="1.0"/>
<ellipse cx="375.0" cy="93.3" rx="5.2" ry="4.8" fill="url(#gB)" opacity="1.0"/>
<rect x="331.4" y="44.6" width="56.80000000000001" height="57.6" fill="none" stroke="#231f20" stroke-width="0.9"/>
<line x1="331.4" y1="44.6" x2="331.4" y2="102.2" stroke="#231f20" stroke-width="1.4"/>
<line x1="331.4" y1="102.2" x2="388.2" y2="102.2" stroke="#231f20" stroke-width="1.2"/>
<line x1="349.6" y1="44.6" x2="349.6" y2="102.2" stroke="#4a4a4a" stroke-width="1.05"/>
<line x1="331.4" y1="83.7" x2="388.2" y2="83.7" stroke="#777" stroke-width="1.2"/>
<line x1="329.79999999999995" y1="50.2" x2="331.4" y2="50.2" stroke="#231f20" stroke-width="0.6"/>
<line x1="329.79999999999995" y1="63.4" x2="331.4" y2="63.4" stroke="#231f20" stroke-width="0.6"/>
<line x1="329.79999999999995" y1="76.6" x2="331.4" y2="76.6" stroke="#231f20" stroke-width="0.6"/>
<line x1="329.79999999999995" y1="89.8" x2="331.4" y2="89.8" stroke="#231f20" stroke-width="0.6"/>
<line x1="329.79999999999995" y1="97.6" x2="331.4" y2="97.6" stroke="#231f20" stroke-width="0.6"/>
<line x1="343.9" y1="102.2" x2="343.9" y2="103.7" stroke="#231f20" stroke-width="0.6"/>
<line x1="354.1" y1="102.2" x2="354.1" y2="103.7" stroke="#231f20" stroke-width="0.6"/>
<line x1="369.5" y1="102.2" x2="369.5" y2="103.7" stroke="#231f20" stroke-width="0.6"/>
<line x1="383.7" y1="102.2" x2="383.7" y2="103.7" stroke="#231f20" stroke-width="0.6"/>
<rect x="441.3" y="57.4" width="0.6" height="0.6" fill="#ccd2d9"/>
<rect x="441.7" y="68.6" width="0.6" height="0.6" fill="#ccd2d9"/>
<rect x="444.1" y="62.0" width="0.6" height="0.6" fill="#ccd2d9"/>
<rect x="437.4" y="64.6" width="0.6" height="0.6" fill="#ccd2d9"/>
<rect x="438.8" y="69.7" width="0.6" height="0.6" fill="#ccd2d9"/>
<rect x="439.7" y="60.9" width="0.6" height="0.6" fill="#ccd2d9"/>
<rect x="442.6" y="63.3" width="0.6" height="0.6" fill="#ccd2d9"/>
<rect x="438.2" y="66.4" width="0.6" height="0.6" fill="#ccd2d9"/>
<rect x="428.0" y="67.0" width="0.6" height="0.6" fill="#ccd2d9"/>
<rect x="439.3" y="63.4" width="0.6" height="0.6" fill="#ccd2d9"/>
<rect x="436.9" y="63.0" width="0.6" height="0.6" fill="#ccd2d9"/>
<rect x="431.3" y="63.9" width="0.6" height="0.6" fill="#ccd2d9"/>
<rect x="428.6" y="63.5" width="0.6" height="0.6" fill="#ccd2d9"/>
<rect x="439.0" y="62.8" width="0.6" height="0.6" fill="#ccd2d9"/>
<rect x="437.6" y="69.5" width="0.6" height="0.6" fill="#ccd2d9"/>
<rect x="443.2" y="58.8" width="0.6" height="0.6" fill="#ccd2d9"/>
<rect x="441.5" y="65.1" width="0.6" height="0.6" fill="#ccd2d9"/>
<rect x="428.9" y="61.7" width="0.6" height="0.6" fill="#ccd2d9"/>
<rect x="432.0" y="58.0" width="0.6" height="0.6" fill="#ccd2d9"/>
<rect x="437.2" y="69.1" width="0.6" height="0.6" fill="#ccd2d9"/>
<rect x="433.5" y="68.3" width="0.6" height="0.6" fill="#ccd2d9"/>
<rect x="439.8" y="58.7" width="0.6" height="0.6" fill="#ccd2d9"/>
<rect x="442.6" y="64.8" width="0.6" height="0.6" fill="#ccd2d9"/>
<rect x="443.8" y="66.3" width="0.6" height="0.6" fill="#ccd2d9"/>
<rect x="440.6" y="61.5" width="0.6" height="0.6" fill="#ccd2d9"/>
<rect x="441.7" y="69.1" width="0.6" height="0.6" fill="#ccd2d9"/>
<rect x="442.6" y="62.7" width="0.6" height="0.6" fill="#ccd2d9"/>
<rect x="440.9" y="63.3" width="0.6" height="0.6" fill="#ccd2d9"/>
<rect x="429.9" y="57.6" width="0.6" height="0.6" fill="#ccd2d9"/>
<rect x="429.3" y="59.6" width="0.6" height="0.6" fill="#ccd2d9"/>
<rect x="430.7" y="63.5" width="0.6" height="0.6" fill="#ccd2d9"/>
<rect x="439.9" y="64.0" width="0.6" height="0.6" fill="#ccd2d9"/>
<rect x="435.2" y="65.4" width="0.6" height="0.6" fill="#ccd2d9"/>
<rect x="433.2" y="63.0" width="0.6" height="0.6" fill="#ccd2d9"/>
<rect x="440.9" y="62.2" width="0.6" height="0.6" fill="#ccd2d9"/>
<rect x="431.1" y="68.7" width="0.6" height="0.6" fill="#ccd2d9"/>
<rect x="440.2" y="61.8" width="0.6" height="0.6" fill="#ccd2d9"/>
<rect x="434.3" y="63.9" width="0.6" height="0.6" fill="#ccd2d9"/>
<rect x="438.1" y="59.9" width="0.6" height="0.6" fill="#ccd2d9"/>
<rect x="428.0" y="59.7" width="0.6" height="0.6" fill="#ccd2d9"/>
<rect x="441.3" y="58.9" width="0.6" height="0.6" fill="#ccd2d9"/>
<rect x="435.8" y="59.5" width="0.6" height="0.6" fill="#ccd2d9"/>
<rect x="431.6" y="59.2" width="0.6" height="0.6" fill="#ccd2d9"/>
<rect x="434.9" y="59.2" width="0.6" height="0.6" fill="#ccd2d9"/>
<rect x="428.5" y="58.4" width="0.6" height="0.6" fill="#ccd2d9"/>
<rect x="432.5" y="70.8" width="0.6" height="0.6" fill="#d6dbe0"/>
<rect x="429.6" y="60.5" width="0.6" height="0.6" fill="#d6dbe0"/>
<rect x="440.1" y="69.0" width="0.6" height="0.6" fill="#d6dbe0"/>
<rect x="447.0" y="61.1" width="0.6" height="0.6" fill="#d6dbe0"/>
<rect x="438.9" y="68.7" width="0.6" height="0.6" fill="#d6dbe0"/>
<rect x="428.7" y="81.2" width="0.6" height="0.6" fill="#d6dbe0"/>
<rect x="433.9" y="62.1" width="0.6" height="0.6" fill="#d6dbe0"/>
<rect x="440.8" y="63.6" width="0.6" height="0.6" fill="#d6dbe0"/>
<rect x="444.8" y="67.6" width="0.6" height="0.6" fill="#d6dbe0"/>
<rect x="431.3" y="61.1" width="0.6" height="0.6" fill="#d6dbe0"/>
<rect x="447.6" y="66.1" width="0.6" height="0.6" fill="#d6dbe0"/>
<rect x="449.3" y="70.2" width="0.6" height="0.6" fill="#d6dbe0"/>
<rect x="453.2" y="66.6" width="0.6" height="0.6" fill="#d6dbe0"/>
<rect x="434.7" y="65.8" width="0.6" height="0.6" fill="#d6dbe0"/>
<rect x="450.0" y="73.8" width="0.6" height="0.6" fill="#d6dbe0"/>
<rect x="437.3" y="62.1" width="0.6" height="0.6" fill="#d6dbe0"/>
<rect x="446.4" y="81.3" width="0.6" height="0.6" fill="#d6dbe0"/>
<rect x="444.0" y="60.1" width="0.6" height="0.6" fill="#d6dbe0"/>
<rect x="428.8" y="62.0" width="0.6" height="0.6" fill="#d6dbe0"/>
<rect x="432.6" y="60.8" width="0.6" height="0.6" fill="#d6dbe0"/>
<rect x="429.5" y="74.4" width="0.6" height="0.6" fill="#d6dbe0"/>
<rect x="452.3" y="64.4" width="0.6" height="0.6" fill="#d6dbe0"/>
<rect x="454.3" y="70.5" width="0.6" height="0.6" fill="#d6dbe0"/>
<rect x="449.7" y="80.2" width="0.6" height="0.6" fill="#d6dbe0"/>
<rect x="453.4" y="60.8" width="0.6" height="0.6" fill="#d6dbe0"/>
<rect x="418.8" y="88.0" width="0.6" height="0.6" fill="#cfd5dc"/>
<rect x="422.7" y="85.4" width="0.6" height="0.6" fill="#cfd5dc"/>
<rect x="418.8" y="89.2" width="0.6" height="0.6" fill="#cfd5dc"/>
<rect x="417.7" y="86.9" width="0.6" height="0.6" fill="#cfd5dc"/>
<rect x="419.0" y="88.4" width="0.6" height="0.6" fill="#cfd5dc"/>
<rect x="422.6" y="85.9" width="0.6" height="0.6" fill="#cfd5dc"/>
<path d="M416.0,60.5 C416.0,59.2 417.3,58.6 418.8,58.7 C420.6,58.8 421.8,59.4 421.8,61 L421.5,81.5 C421.5,82.6 420.5,83.0 418.9,83.0 C417.2,83.0 416.3,82.5 416.3,81.3 Z" fill="#eef0f2" stroke="#bcc4cd" stroke-width="0.7"/>
<path d="M417.8,62 L418,80 M419.8,62 L419.6,80" stroke="#d3d8de" stroke-width="0.6"/>
<path d="M414.8,98 C414.6,94.5 417,92 420.5,91 C423,90.3 425.2,90.5 425,92.5 C424.8,95.5 424.5,99.2 421.5,100.6 C418.5,101.6 415,100.8 414.8,98 Z" fill="#c9d0d7" stroke="#98a3af" stroke-width="0.6"/>
<ellipse cx="419.2" cy="97.2" rx="3.2" ry="3.3" fill="url(#gA)" opacity="1.0"/>
<ellipse cx="440.2" cy="97.0" rx="12.0" ry="2.6" fill="#eceff2" stroke="#aab4bf" stroke-width="0.7"/>
<ellipse cx="438" cy="97.1" rx="7.5" ry="1.1" fill="none" stroke="#c3cad2" stroke-width="0.5"/>
<rect x="407.8" y="44.9" width="58.30000000000001" height="57.300000000000004" fill="none" stroke="#231f20" stroke-width="0.9"/>
<line x1="407.8" y1="44.9" x2="407.8" y2="102.2" stroke="#231f20" stroke-width="1.4"/>
<line x1="407.8" y1="102.2" x2="466.1" y2="102.2" stroke="#231f20" stroke-width="1.2"/>
<line x1="426.5" y1="44.9" x2="426.5" y2="102.2" stroke="#4a4a4a" stroke-width="1.05"/>
<line x1="407.8" y1="83.7" x2="466.1" y2="83.7" stroke="#777" stroke-width="1.2"/>
<line x1="406.2" y1="50.2" x2="407.8" y2="50.2" stroke="#231f20" stroke-width="0.6"/>
<line x1="406.2" y1="63.4" x2="407.8" y2="63.4" stroke="#231f20" stroke-width="0.6"/>
<line x1="406.2" y1="76.6" x2="407.8" y2="76.6" stroke="#231f20" stroke-width="0.6"/>
<line x1="406.2" y1="89.8" x2="407.8" y2="89.8" stroke="#231f20" stroke-width="0.6"/>
<line x1="406.2" y1="97.6" x2="407.8" y2="97.6" stroke="#231f20" stroke-width="0.6"/>
<line x1="420.6" y1="102.2" x2="420.6" y2="103.7" stroke="#231f20" stroke-width="0.6"/>
<line x1="431.1" y1="102.2" x2="431.1" y2="103.7" stroke="#231f20" stroke-width="0.6"/>
<line x1="446.9" y1="102.2" x2="446.9" y2="103.7" stroke="#231f20" stroke-width="0.6"/>
<line x1="461.4" y1="102.2" x2="461.4" y2="103.7" stroke="#231f20" stroke-width="0.6"/>
<g font-size="8.0" fill="#231f20" stroke="#231f20">
<text x="257.6" y="52.7" textLength="11.4" lengthAdjust="spacingAndGlyphs">2.0</text>
<text x="302.7" y="99.9" textLength="8" lengthAdjust="spacingAndGlyphs">79</text>
<text x="334.0" y="52.8" textLength="9.3" lengthAdjust="spacingAndGlyphs">28</text>
<text x="379.0" y="99.9" textLength="7.5" lengthAdjust="spacingAndGlyphs">31</text>
<text x="410.6" y="53.0" textLength="8.1" lengthAdjust="spacingAndGlyphs">12</text>
<text x="453.4" y="99.9" textLength="10.4" lengthAdjust="spacingAndGlyphs">8.6</text>
</g>
<g font-size="7.0" fill="#231f20" text-anchor="end" stroke="#231f20">
<text x="250.9" y="52.7">10<tspan dy="-2.7" font-size="4.2">5</tspan></text>
<text x="250.9" y="65.9">10<tspan dy="-2.7" font-size="4.2">4</tspan></text>
<text x="250.9" y="79.6">10<tspan dy="-2.7" font-size="4.2">3</tspan></text>
<text x="250.9" y="92.1">10<tspan dy="-2.7" font-size="4.2">2</tspan></text>
<text x="250.3" y="99.4">0</text>
</g>
<g font-size="7.0" fill="#231f20" stroke="#231f20">
<text x="266.3" y="112.6">0</text>
<text x="274.5" y="112.6">10<tspan dy="-2.7" font-size="4.2">3</tspan></text>
<text x="289.8" y="112.6">10<tspan dy="-2.7" font-size="4.2">4</tspan></text>
<text x="303.9" y="112.6">10<tspan dy="-2.7" font-size="4.2">5</tspan></text>
</g>
<text transform="translate(235.3,99.3) rotate(-90)" font-size="8.4" fill="#231f20" textLength="28.5" lengthAdjust="spacingAndGlyphs" stroke="#231f20">GFP(WT)</text>
<line x1="233" y1="69.5" x2="233" y2="53.5" stroke="#333" stroke-width="0.75"/>
<path d="M233,49.8 L231.2,54.3 L234.8,54.3 Z" fill="#231f20"/>
<text x="254" y="125.8" font-size="8.6" fill="#231f20" textLength="51.8" lengthAdjust="spacingAndGlyphs" stroke="#231f20">Thy1.1(<tspan font-style="italic">Tfap4</tspan><tspan dy="-2.8" font-size="4.4">+/-</tspan><tspan dy="2.8">)</tspan></text>
<line x1="309.2" y1="123.5" x2="385" y2="123.5" stroke="#231f20" stroke-width="0.6"/>
<path d="M388.9,123.5 L384.5,121.8 L384.5,125.2 Z" fill="#231f20"/>
<text x="407.7" y="126.4" font-size="8.6" fill="#231f20" textLength="44.6" lengthAdjust="spacingAndGlyphs" stroke="#231f20">Thy1.1(<tspan font-style="italic">Erg</tspan><tspan dy="-2.8" font-size="4.4">+/-</tspan><tspan dy="2.8">)</tspan></text>
<line x1="455.4" y1="123.5" x2="461" y2="123.5" stroke="#231f20" stroke-width="0.6"/>
<path d="M464.4,123.5 L460.5,121.9 L460.5,125.1 Z" fill="#231f20"/>
<line x1="50.5" y1="249.2" x2="144" y2="249.2" stroke="#9a9a9a" stroke-width="0.6" stroke-dasharray="0.7,2.3"/>
<line x1="59.2" y1="249.1" x2="74.5" y2="249.1" stroke="#000" stroke-width="0.45" />
<line x1="59.2" y1="249.1" x2="74.5" y2="248.386" stroke="#000" stroke-width="0.45" />
<line x1="59.2" y1="249.1" x2="74.5" y2="247.672" stroke="#000" stroke-width="0.45" />
<line x1="59.2" y1="249.1" x2="74.5" y2="246.72" stroke="#000" stroke-width="0.45" />
<line x1="59.2" y1="249.1" x2="74.5" y2="246.006" stroke="#000" stroke-width="0.45" />
<line x1="59.2" y1="249.1" x2="74.5" y2="245.292" stroke="#000" stroke-width="0.45" />
<line x1="59.2" y1="249.1" x2="74.5" y2="244.34" stroke="#000" stroke-width="0.45" />
<line x1="59.2" y1="249.1" x2="74.5" y2="243.626" stroke="#000" stroke-width="0.45" />
<line x1="59.2" y1="249.1" x2="74.5" y2="242.912" stroke="#000" stroke-width="0.45" />
<line x1="59.2" y1="249.1" x2="74.5" y2="241.96" stroke="#000" stroke-width="0.45" />
<line x1="59.2" y1="249.1" x2="74.5" y2="241.00799999999998" stroke="#000" stroke-width="0.45" />
<line x1="59.2" y1="249.1" x2="74.5" y2="240.05599999999998" stroke="#000" stroke-width="0.45" />
<line x1="59.2" y1="249.1" x2="74.5" y2="239.57999999999998" stroke="#000" stroke-width="0.45" />
<line x1="59.2" y1="249.1" x2="74.5" y2="238.628" stroke="#000" stroke-width="0.45" />
<line x1="59.2" y1="249.1" x2="74.5" y2="237.2" stroke="#000" stroke-width="0.45" />
<line x1="59.2" y1="249.1" x2="74.5" y2="236.01" stroke="#000" stroke-width="0.45" />
<line x1="59.2" y1="249.1" x2="74.5" y2="234.82" stroke="#000" stroke-width="0.45" />
<line x1="59.2" y1="249.1" x2="74.5" y2="233.63" stroke="#000" stroke-width="0.45" />
<line x1="59.2" y1="249.1" x2="74.5" y2="232.44" stroke="#000" stroke-width="0.45" />
<line x1="59.2" y1="249.1" x2="74.5" y2="231.25" stroke="#000" stroke-width="0.45" />
<line x1="59.2" y1="249.1" x2="74.5" y2="230.06" stroke="#000" stroke-width="0.45" />
<line x1="59.2" y1="249.1" x2="74.5" y2="228.87" stroke="#000" stroke-width="0.45" />
<line x1="59.2" y1="249.1" x2="74.5" y2="227.68" stroke="#000" stroke-width="0.45" />
<line x1="59.2" y1="249.1" x2="74.5" y2="196.502" stroke="#000" stroke-width="1.0" />
<line x1="59.2" y1="249.1" x2="74.5" y2="193.17" stroke="#111" stroke-width="0.55" />
<line x1="59.2" y1="249.1" x2="74.5" y2="159.27499999999998" stroke="#222" stroke-width="0.6" />
<circle cx="59.20" cy="249.10" r="1.9" fill="#e8202a" stroke="#5a0a0c" stroke-width="0.4"/>
<circle cx="74.50" cy="249.10" r="1.75" fill="#e8202a" stroke="#5a0a0c" stroke-width="0.5"/>
<circle cx="74.50" cy="246.72" r="1.75" fill="#e8202a" stroke="#5a0a0c" stroke-width="0.5"/>
<circle cx="74.50" cy="244.34" r="1.75" fill="#e8202a" stroke="#5a0a0c" stroke-width="0.5"/>
<circle cx="74.50" cy="241.96" r="1.75" fill="#e8202a" stroke="#5a0a0c" stroke-width="0.5"/>
<circle cx="74.50" cy="239.58" r="1.75" fill="#e8202a" stroke="#5a0a0c" stroke-width="0.5"/>
<circle cx="74.50" cy="237.20" r="1.75" fill="#e8202a" stroke="#5a0a0c" stroke-width="0.5"/>
<circle cx="74.50" cy="234.82" r="1.75" fill="#e8202a" stroke="#5a0a0c" stroke-width="0.5"/>
<circle cx="74.50" cy="232.44" r="1.75" fill="#e8202a" stroke="#5a0a0c" stroke-width="0.5"/>
<circle cx="74.50" cy="230.06" r="1.75" fill="#e8202a" stroke="#5a0a0c" stroke-width="0.5"/>
<circle cx="74.50" cy="227.68" r="1.75" fill="#e8202a" stroke="#5a0a0c" stroke-width="0.5"/>
<circle cx="74.50" cy="196.50" r="1.75" fill="#e8202a" stroke="#5a0a0c" stroke-width="0.5"/>
<circle cx="74.50" cy="193.17" r="1.75" fill="#e8202a" stroke="#5a0a0c" stroke-width="0.5"/>
<circle cx="74.50" cy="159.27" r="1.75" fill="#e8202a" stroke="#5a0a0c" stroke-width="0.45"/>
<line x1="89.6" y1="249.1" x2="104.9" y2="249.1" stroke="#111" stroke-width="0.35" />
<line x1="89.6" y1="249.1" x2="104.9" y2="248.624" stroke="#111" stroke-width="0.35" />
<line x1="89.6" y1="249.1" x2="104.9" y2="248.148" stroke="#111" stroke-width="0.35" />
<line x1="89.6" y1="249.1" x2="104.9" y2="247.672" stroke="#111" stroke-width="0.35" />
<line x1="89.6" y1="249.1" x2="104.9" y2="246.958" stroke="#111" stroke-width="0.35" />
<line x1="89.6" y1="249.1" x2="104.9" y2="246.244" stroke="#111" stroke-width="0.35" />
<line x1="89.6" y1="249.1" x2="104.9" y2="245.53" stroke="#111" stroke-width="0.35" />
<line x1="89.6" y1="249.1" x2="104.9" y2="244.816" stroke="#111" stroke-width="0.35" />
<line x1="89.6" y1="249.1" x2="104.9" y2="243.864" stroke="#111" stroke-width="0.35" />
<line x1="89.6" y1="249.1" x2="104.9" y2="242.674" stroke="#111" stroke-width="0.35" />
<circle cx="89.60" cy="249.10" r="1.85" fill="#5e1a70" stroke="#1e0626" stroke-width="0.5"/>
<circle cx="104.90" cy="249.10" r="1.75" fill="#5e1a70" stroke="#1e0626" stroke-width="0.5"/>
<circle cx="104.90" cy="246.72" r="1.75" fill="#5e1a70" stroke="#1e0626" stroke-width="0.5"/>
<circle cx="104.90" cy="244.58" r="1.75" fill="#5e1a70" stroke="#1e0626" stroke-width="0.5"/>
<circle cx="104.90" cy="242.44" r="1.75" fill="#5e1a70" stroke="#1e0626" stroke-width="0.5"/>
<line x1="119.8" y1="248.5" x2="134.8" y2="248.5" stroke="#555" stroke-width="0.5" />
<line x1="119.8" y1="249.6" x2="134.8" y2="249.6" stroke="#555" stroke-width="0.5" />
<circle cx="119.80" cy="249.10" r="1.85" fill="#45596e" stroke="#151e28" stroke-width="0.5"/>
<circle cx="134.80" cy="249.10" r="1.85" fill="#45596e" stroke="#151e28" stroke-width="0.5"/>
<line x1="49.6" y1="177.7" x2="49.6" y2="251.6" stroke="#231f20" stroke-width="1.0" />
<line x1="49.6" y1="156.4" x2="49.6" y2="167.1" stroke="#231f20" stroke-width="1.0" />
<line x1="45.4" y1="156.8" x2="50.1" y2="156.8" stroke="#231f20" stroke-width="0.9" />
<line x1="45.4" y1="166.7" x2="52.4" y2="166.7" stroke="#231f20" stroke-width="0.9" />
<line x1="46.0" y1="177.7" x2="52.4" y2="177.7" stroke="#231f20" stroke-width="0.9" />
<line x1="46.2" y1="201.5" x2="49.6" y2="201.5" stroke="#231f20" stroke-width="0.9" />
<line x1="46.2" y1="225.3" x2="49.6" y2="225.3" stroke="#231f20" stroke-width="0.9" />
<line x1="46.2" y1="249.1" x2="49.6" y2="249.1" stroke="#231f20" stroke-width="0.9" />
<line x1="48.8" y1="251.3" x2="144.7" y2="251.3" stroke="#231f20" stroke-width="1.4" />
<g font-size="8.2" fill="#231f20" text-anchor="end" stroke="#231f20">
<text x="44.0" y="159.7" textLength="16.79" lengthAdjust="spacingAndGlyphs">1000</text>
<text x="44.0" y="169.9" textLength="12.59" lengthAdjust="spacingAndGlyphs">900</text>
<text x="44.0" y="180.5" textLength="12.59" lengthAdjust="spacingAndGlyphs">300</text>
<text x="44.0" y="204.1" textLength="12.59" lengthAdjust="spacingAndGlyphs">200</text>
<text x="44.0" y="228.2" textLength="12.59" lengthAdjust="spacingAndGlyphs">100</text>
<text x="44.0" y="252.2" textLength="4.20" lengthAdjust="spacingAndGlyphs">0</text>
</g>
<line x1="59" y1="155.7" x2="75" y2="155.7" stroke="#666" stroke-width="0.9" />
<text x="66.9" y="156" font-size="7.5" text-anchor="middle" fill="#231f20" textLength="2.8" lengthAdjust="spacingAndGlyphs" stroke="#231f20">*</text>
<line x1="88.9" y1="232.6" x2="104.2" y2="232.6" stroke="#666" stroke-width="0.8" />
<text x="96.5" y="230.6" font-size="7" text-anchor="middle" fill="#231f20" stroke="#231f20">ns</text>
<line x1="119.6" y1="232.6" x2="135" y2="232.6" stroke="#666" stroke-width="0.8" />
<text x="127.3" y="233.2" font-size="6.5" text-anchor="middle" fill="#231f20" textLength="12" lengthAdjust="spacingAndGlyphs" stroke="#231f20">****</text>
<g font-size="8.0" fill="#231f20" stroke="#231f20">
<text x="55.2" y="258.9" textLength="8.6" lengthAdjust="spacingAndGlyphs">d0</text>
<text x="68.10000000000001" y="258.9" textLength="12.3" lengthAdjust="spacingAndGlyphs">d20</text>
<text x="85.4" y="258.9" textLength="8.6" lengthAdjust="spacingAndGlyphs">d0</text>
<text x="98.30000000000001" y="258.9" textLength="12.3" lengthAdjust="spacingAndGlyphs">d20</text>
<text x="115.6" y="258.9" textLength="8.6" lengthAdjust="spacingAndGlyphs">d0</text>
<text x="128.5" y="258.9" textLength="12.3" lengthAdjust="spacingAndGlyphs">d20</text>
</g>
<line x1="54.6" y1="260.9" x2="80.9" y2="260.9" stroke="#9a9a9a" stroke-width="1.0" />
<line x1="85.6" y1="260.9" x2="110.6" y2="260.9" stroke="#9a9a9a" stroke-width="1.0" />
<line x1="116.3" y1="260.9" x2="142.4" y2="260.9" stroke="#9a9a9a" stroke-width="1.0" />
<text transform="translate(21.6,253.2) rotate(-90)" font-size="8.2" fill="#231f20" textLength="90" lengthAdjust="spacingAndGlyphs" stroke="#231f20"><tspan font-style="italic">Tfap4</tspan><tspan dy="-2.7" font-size="4.2">+/-</tspan><tspan dy="2.7"> to WT ratio (MYC+)</tspan></text>
<text transform="translate(71.7,267.5) rotate(-45)" font-size="7.2" fill="#231f20" text-anchor="end" textLength="46.5" lengthAdjust="spacingAndGlyphs" stroke="#231f20"><tspan>WT + </tspan><tspan>Tfap4</tspan><tspan dy="-2.6" font-size="4.2">+/-</tspan></text>
<text transform="translate(101.0,268.5) rotate(-45)" font-size="7.2" fill="#231f20" text-anchor="end" textLength="65.0" lengthAdjust="spacingAndGlyphs" stroke="#231f20"><tspan>WT + </tspan><tspan>Tfap4</tspan><tspan dy="-2.6" font-size="4.2">+/-</tspan><tspan dy="2.6">Erg</tspan><tspan dy="-2.6" font-size="4.2">+/-</tspan></text>
<text transform="translate(129.5,268.5) rotate(-45)" font-size="7.2" fill="#231f20" text-anchor="end" textLength="38.5" lengthAdjust="spacingAndGlyphs" stroke="#231f20"><tspan>WT + </tspan><tspan>Erg</tspan><tspan dy="-2.6" font-size="4.2">+/-</tspan></text>
<line x1="214.3" y1="180.78125" x2="234.7" y2="244.075" stroke="#000" stroke-width="0.75" />
<line x1="214.3" y1="184.7" x2="234.7" y2="245.2625" stroke="#000" stroke-width="0.75" />
<line x1="214.3" y1="192.77499999999998" x2="234.7" y2="245.85625" stroke="#000" stroke-width="0.75" />
<line x1="214.3" y1="196.575" x2="234.7" y2="244.075" stroke="#000" stroke-width="0.75" />
<line x1="214.3" y1="214.3875" x2="234.7" y2="244.66875" stroke="#000" stroke-width="0.75" />
<line x1="214.3" y1="229.825" x2="234.7" y2="247.04375" stroke="#000" stroke-width="0.6" />
<line x1="214.3" y1="233.14999999999998" x2="234.7" y2="245.2625" stroke="#000" stroke-width="0.6" />
<line x1="214.3" y1="233.14999999999998" x2="234.7" y2="248.825" stroke="#000" stroke-width="0.6" />
<line x1="214.3" y1="236.23749999999998" x2="234.7" y2="244.075" stroke="#000" stroke-width="0.6" />
<line x1="214.3" y1="236.23749999999998" x2="234.7" y2="248.23125" stroke="#000" stroke-width="0.6" />
<line x1="214.3" y1="239.20624999999998" x2="234.7" y2="246.45" stroke="#000" stroke-width="0.6" />
<line x1="214.3" y1="242.17499999999998" x2="234.7" y2="250.0125" stroke="#000" stroke-width="0.6" />
<line x1="214.3" y1="242.17499999999998" x2="234.7" y2="244.66875" stroke="#000" stroke-width="0.6" />
<line x1="214.3" y1="245.02499999999998" x2="234.7" y2="247.6375" stroke="#000" stroke-width="0.6" />
<line x1="214.3" y1="247.875" x2="234.7" y2="250.60625" stroke="#000" stroke-width="0.6" />
<line x1="214.3" y1="247.875" x2="234.7" y2="245.85625" stroke="#000" stroke-width="0.6" />
<line x1="214.3" y1="250.48749999999998" x2="234.7" y2="248.825" stroke="#000" stroke-width="0.6" />
<circle cx="214.3" cy="250.49" r="1.65" fill="#fff" stroke="#5a5a5a" stroke-width="0.8"/>
<circle cx="214.3" cy="247.88" r="1.65" fill="#fff" stroke="#5a5a5a" stroke-width="0.8"/>
<circle cx="214.3" cy="245.02" r="1.65" fill="#fff" stroke="#5a5a5a" stroke-width="0.8"/>
<circle cx="214.3" cy="242.17" r="1.65" fill="#fff" stroke="#5a5a5a" stroke-width="0.8"/>
<circle cx="214.3" cy="239.21" r="1.65" fill="#fff" stroke="#5a5a5a" stroke-width="0.8"/>
<circle cx="214.3" cy="236.24" r="1.65" fill="#fff" stroke="#5a5a5a" stroke-width="0.8"/>
<circle cx="214.3" cy="233.15" r="1.65" fill="#fff" stroke="#5a5a5a" stroke-width="0.8"/>
<circle cx="214.3" cy="229.82" r="1.65" fill="#fff" stroke="#5a5a5a" stroke-width="0.8"/>
<circle cx="214.3" cy="214.39" r="1.65" fill="#fff" stroke="#5a5a5a" stroke-width="0.8"/>
<circle cx="214.3" cy="196.57" r="1.65" fill="#fff" stroke="#5a5a5a" stroke-width="0.8"/>
<circle cx="214.3" cy="192.77" r="1.65" fill="#fff" stroke="#5a5a5a" stroke-width="0.8"/>
<circle cx="214.3" cy="184.70" r="1.65" fill="#fff" stroke="#5a5a5a" stroke-width="0.8"/>
<circle cx="214.3" cy="180.78" r="1.65" fill="#fff" stroke="#5a5a5a" stroke-width="0.8"/>
<circle cx="234.70" cy="244.07" r="1.6" fill="#e8202a" stroke="#5a0a0c" stroke-width="0.5"/>
<circle cx="234.70" cy="246.92" r="1.6" fill="#e8202a" stroke="#5a0a0c" stroke-width="0.5"/>
<circle cx="234.70" cy="249.66" r="1.6" fill="#e8202a" stroke="#5a0a0c" stroke-width="0.5"/>
<line x1="200.7" y1="156.2" x2="200.7" y2="251.8" stroke="#231f20" stroke-width="1.0" />
<line x1="197.6" y1="156.2" x2="200.7" y2="156.2" stroke="#231f20" stroke-width="0.9" />
<line x1="197.6" y1="179.95" x2="200.7" y2="179.95" stroke="#231f20" stroke-width="0.9" />
<line x1="197.6" y1="203.7" x2="200.7" y2="203.7" stroke="#231f20" stroke-width="0.9" />
<line x1="197.6" y1="227.45" x2="200.7" y2="227.45" stroke="#231f20" stroke-width="0.9" />
<line x1="197.6" y1="251.2" x2="200.7" y2="251.2" stroke="#231f20" stroke-width="0.9" />
<line x1="198" y1="251.5" x2="248.6" y2="251.5" stroke="#231f20" stroke-width="1.2" />
<g font-size="8.2" fill="#231f20" text-anchor="end" stroke="#231f20">
<text x="194.4" y="159.3" textLength="8.40" lengthAdjust="spacingAndGlyphs">80</text>
<text x="194.4" y="183.0" textLength="8.40" lengthAdjust="spacingAndGlyphs">60</text>
<text x="194.4" y="206.8" textLength="8.40" lengthAdjust="spacingAndGlyphs">40</text>
<text x="194.4" y="230.5" textLength="8.40" lengthAdjust="spacingAndGlyphs">20</text>
<text x="194.4" y="254.3" textLength="4.20" lengthAdjust="spacingAndGlyphs">0</text>
</g>
<line x1="213.9" y1="173.4" x2="232.9" y2="173.4" stroke="#555" stroke-width="0.8" />
<text x="223.4" y="174" font-size="7.5" text-anchor="middle" fill="#231f20" textLength="5.4" lengthAdjust="spacingAndGlyphs" stroke="#231f20">**</text>
<text transform="translate(177.3,243.2) rotate(-90)" font-size="8.4" fill="#231f20" textLength="79.6" lengthAdjust="spacingAndGlyphs" stroke="#231f20">%IgM+ (MYC+ B220+)</text>
<text transform="translate(219.0,259.8) rotate(-45)" font-size="7.4" fill="#231f20" text-anchor="end" textLength="12.8" lengthAdjust="spacingAndGlyphs" stroke="#231f20">WT</text>
<text transform="translate(238.3,261.8) rotate(-45)" font-size="7.4" fill="#231f20" text-anchor="end" textLength="24.3" lengthAdjust="spacingAndGlyphs" stroke="#231f20"><tspan font-style="italic">Tfap4</tspan><tspan dy="-2.6" font-size="4.2">+/-</tspan></text>
<circle cx="312.60" cy="178.41" r="1.75" fill="#e8202a" stroke="#5a0a0c" stroke-width="0.45"/>
<circle cx="312.10" cy="205.78" r="1.75" fill="#e8202a" stroke="#5a0a0c" stroke-width="0.45"/>
<circle cx="311.60" cy="217.68" r="1.75" fill="#e8202a" stroke="#5a0a0c" stroke-width="0.45"/>
<circle cx="314.60" cy="218.87" r="1.75" fill="#e8202a" stroke="#5a0a0c" stroke-width="0.45"/>
<circle cx="313.60" cy="222.44" r="1.75" fill="#e8202a" stroke="#5a0a0c" stroke-width="0.45"/>
<circle cx="310.10" cy="224.82" r="1.75" fill="#e8202a" stroke="#5a0a0c" stroke-width="0.45"/>
<circle cx="314.40" cy="226.01" r="1.75" fill="#e8202a" stroke="#5a0a0c" stroke-width="0.45"/>
<circle cx="311.60" cy="229.58" r="1.75" fill="#e8202a" stroke="#5a0a0c" stroke-width="0.45"/>
<circle cx="309.60" cy="235.53" r="1.75" fill="#e8202a" stroke="#5a0a0c" stroke-width="0.45"/>
<circle cx="315.10" cy="236.72" r="1.75" fill="#e8202a" stroke="#5a0a0c" stroke-width="0.45"/>
<circle cx="311.60" cy="239.10" r="1.75" fill="#e8202a" stroke="#5a0a0c" stroke-width="0.45"/>
<circle cx="308.60" cy="241.48" r="1.75" fill="#e8202a" stroke="#5a0a0c" stroke-width="0.45"/>
<circle cx="313.20" cy="242.07" r="1.75" fill="#e8202a" stroke="#5a0a0c" stroke-width="0.45"/>
<circle cx="316.10" cy="243.26" r="1.75" fill="#e8202a" stroke="#5a0a0c" stroke-width="0.45"/>
<circle cx="308.30" cy="245.05" r="1.75" fill="#e8202a" stroke="#5a0a0c" stroke-width="0.45"/>
<circle cx="312.60" cy="245.65" r="1.75" fill="#e8202a" stroke="#5a0a0c" stroke-width="0.45"/>
<circle cx="315.60" cy="247.43" r="1.75" fill="#e8202a" stroke="#5a0a0c" stroke-width="0.45"/>
<circle cx="310.10" cy="248.62" r="1.75" fill="#e8202a" stroke="#5a0a0c" stroke-width="0.45"/>
<circle cx="313.60" cy="249.81" r="1.75" fill="#e8202a" stroke="#5a0a0c" stroke-width="0.45"/>
<line x1="306.2" y1="231.008" x2="318.8" y2="231.008" stroke="#222" stroke-width="0.9" />
<line x1="309.0" y1="214.11" x2="316.4" y2="214.11" stroke="#222" stroke-width="0.9" />
<line x1="312.6" y1="214.11" x2="312.6" y2="231.008" stroke="#222" stroke-width="0.7" />
<circle cx="331.70" cy="214.11" r="1.75" fill="#5e1a70" stroke="#1e0626" stroke-width="0.45"/>
<circle cx="331.70" cy="235.53" r="1.75" fill="#5e1a70" stroke="#1e0626" stroke-width="0.45"/>
<circle cx="329.70" cy="243.86" r="1.75" fill="#5e1a70" stroke="#1e0626" stroke-width="0.45"/>
<circle cx="334.20" cy="245.05" r="1.75" fill="#5e1a70" stroke="#1e0626" stroke-width="0.45"/>
<circle cx="328.20" cy="246.24" r="1.75" fill="#5e1a70" stroke="#1e0626" stroke-width="0.45"/>
<circle cx="332.20" cy="247.43" r="1.75" fill="#5e1a70" stroke="#1e0626" stroke-width="0.45"/>
<circle cx="335.20" cy="248.03" r="1.75" fill="#5e1a70" stroke="#1e0626" stroke-width="0.45"/>
<circle cx="330.20" cy="249.22" r="1.75" fill="#5e1a70" stroke="#1e0626" stroke-width="0.45"/>
<circle cx="333.70" cy="249.81" r="1.75" fill="#5e1a70" stroke="#1e0626" stroke-width="0.45"/>
<circle cx="328.20" cy="250.41" r="1.75" fill="#5e1a70" stroke="#1e0626" stroke-width="0.45"/>
<circle cx="332.20" cy="251.00" r="1.75" fill="#5e1a70" stroke="#1e0626" stroke-width="0.45"/>
<circle cx="335.20" cy="251.00" r="1.75" fill="#5e1a70" stroke="#1e0626" stroke-width="0.45"/>
<line x1="325.5" y1="245.526" x2="337.7" y2="245.526" stroke="#222" stroke-width="0.9" />
<line x1="328.6" y1="237.91" x2="334.8" y2="237.91" stroke="#222" stroke-width="0.9" />
<line x1="331.7" y1="237.91" x2="331.7" y2="245.526" stroke="#222" stroke-width="0.7" />
<circle cx="346.70" cy="240.88" r="1.75" fill="#45596e" stroke="#151e28" stroke-width="0.45"/>
<circle cx="351.70" cy="241.48" r="1.75" fill="#45596e" stroke="#151e28" stroke-width="0.45"/>
<circle cx="349.20" cy="243.26" r="1.75" fill="#45596e" stroke="#151e28" stroke-width="0.45"/>
<circle cx="345.70" cy="245.05" r="1.75" fill="#45596e" stroke="#151e28" stroke-width="0.45"/>
<circle cx="352.70" cy="245.65" r="1.75" fill="#45596e" stroke="#151e28" stroke-width="0.45"/>
<circle cx="348.20" cy="247.43" r="1.75" fill="#45596e" stroke="#151e28" stroke-width="0.45"/>
<circle cx="351.20" cy="248.03" r="1.75" fill="#45596e" stroke="#151e28" stroke-width="0.45"/>
<circle cx="345.70" cy="249.81" r="1.75" fill="#45596e" stroke="#151e28" stroke-width="0.45"/>
<circle cx="349.70" cy="250.41" r="1.75" fill="#45596e" stroke="#151e28" stroke-width="0.45"/>
<circle cx="353.00" cy="250.41" r="1.75" fill="#45596e" stroke="#151e28" stroke-width="0.45"/>
<line x1="343.5" y1="246.002" x2="355" y2="246.002" stroke="#222" stroke-width="0.9" />
<line x1="299.3" y1="155.8" x2="299.3" y2="251.6" stroke="#231f20" stroke-width="1.0" />
<line x1="296.1" y1="156.0" x2="299.3" y2="156.0" stroke="#231f20" stroke-width="0.9" />
<line x1="296.1" y1="179.8" x2="299.3" y2="179.8" stroke="#231f20" stroke-width="0.9" />
<line x1="296.1" y1="203.6" x2="299.3" y2="203.6" stroke="#231f20" stroke-width="0.9" />
<line x1="296.1" y1="227.39999999999998" x2="299.3" y2="227.39999999999998" stroke="#231f20" stroke-width="0.9" />
<line x1="296.1" y1="251.2" x2="299.3" y2="251.2" stroke="#231f20" stroke-width="0.9" />
<line x1="297" y1="251.3" x2="363.3" y2="251.3" stroke="#231f20" stroke-width="1.2" />
<g font-size="8.2" fill="#231f20" text-anchor="end" stroke="#231f20">
<text x="293.0" y="158.9" textLength="8.40" lengthAdjust="spacingAndGlyphs">80</text>
<text x="293.0" y="182.7" textLength="8.40" lengthAdjust="spacingAndGlyphs">60</text>
<text x="293.0" y="206.5" textLength="8.40" lengthAdjust="spacingAndGlyphs">40</text>
<text x="293.0" y="230.3" textLength="8.40" lengthAdjust="spacingAndGlyphs">20</text>
<text x="293.0" y="254.1" textLength="4.20" lengthAdjust="spacingAndGlyphs">0</text>
</g>
<line x1="312.9" y1="163.0" x2="351.3" y2="163.0" stroke="#666" stroke-width="0.8" />
<text x="332.3" y="164" font-size="7.5" text-anchor="middle" fill="#231f20" textLength="5.4" lengthAdjust="spacingAndGlyphs" stroke="#231f20">**</text>
<line x1="312.5" y1="171.4" x2="331.6" y2="171.4" stroke="#666" stroke-width="0.8" />
<text x="321.9" y="173" font-size="7.2" text-anchor="middle" fill="#231f20" textLength="11.8" lengthAdjust="spacingAndGlyphs" stroke="#231f20">****</text>
<line x1="331.8" y1="173.2" x2="350.8" y2="173.2" stroke="#666" stroke-width="0.8" />
<text x="341.4" y="170.9" font-size="7" text-anchor="middle" fill="#231f20" stroke="#231f20">ns</text>
<text transform="translate(279.3,249.3) rotate(-90)" font-size="9.2" fill="#231f20" textLength="90.3" lengthAdjust="spacingAndGlyphs" stroke="#231f20">%CD45.2+ of total BM cells</text>
<text transform="translate(311.3,259.3) rotate(-45)" font-size="7.2" fill="#231f20" text-anchor="end" textLength="45.5" lengthAdjust="spacingAndGlyphs" stroke="#231f20">WT + Tfap4<tspan dy="-2.6" font-size="4.2">+/-</tspan></text>
<text transform="translate(329.3,259.3) rotate(-45)" font-size="7.2" fill="#231f20" text-anchor="end" textLength="63.0" lengthAdjust="spacingAndGlyphs" stroke="#231f20">WT + Tfap4<tspan dy="-2.6" font-size="4.2">+/-</tspan><tspan dy="2.6">Erg</tspan><tspan dy="-2.6" font-size="4.2">+/-</tspan></text>
<text transform="translate(350.8,259.3) rotate(-45)" font-size="7.2" fill="#231f20" text-anchor="end" textLength="38.0" lengthAdjust="spacingAndGlyphs" stroke="#231f20">WT + Erg<tspan dy="-2.6" font-size="4.2">+/-</tspan></text>
<circle cx="422.60" cy="243.90" r="1.6" fill="#e8202a" stroke="#3a0206" stroke-width="0.6"/>
<circle cx="420.30" cy="244.49" r="1.6" fill="#e8202a" stroke="#3a0206" stroke-width="0.6"/>
<circle cx="424.70" cy="244.73" r="1.6" fill="#e8202a" stroke="#3a0206" stroke-width="0.6"/>
<circle cx="418.50" cy="245.67" r="1.6" fill="#e8202a" stroke="#3a0206" stroke-width="0.6"/>
<circle cx="422.40" cy="246.15" r="1.6" fill="#e8202a" stroke="#3a0206" stroke-width="0.6"/>
<circle cx="425.90" cy="246.62" r="1.6" fill="#e8202a" stroke="#3a0206" stroke-width="0.6"/>
<circle cx="420.10" cy="247.33" r="1.6" fill="#e8202a" stroke="#3a0206" stroke-width="0.6"/>
<circle cx="423.90" cy="247.81" r="1.6" fill="#e8202a" stroke="#3a0206" stroke-width="0.6"/>
<circle cx="418.30" cy="248.28" r="1.6" fill="#e8202a" stroke="#3a0206" stroke-width="0.6"/>
<circle cx="422.10" cy="248.76" r="1.6" fill="#e8202a" stroke="#3a0206" stroke-width="0.6"/>
<circle cx="425.60" cy="249.23" r="1.6" fill="#e8202a" stroke="#3a0206" stroke-width="0.6"/>
<circle cx="420.30" cy="249.70" r="1.6" fill="#e8202a" stroke="#3a0206" stroke-width="0.6"/>
<circle cx="423.70" cy="250.18" r="1.6" fill="#e8202a" stroke="#3a0206" stroke-width="0.6"/>
<circle cx="418.90" cy="250.65" r="1.6" fill="#e8202a" stroke="#3a0206" stroke-width="0.6"/>
<circle cx="422.30" cy="251.01" r="1.6" fill="#e8202a" stroke="#3a0206" stroke-width="0.6"/>
<circle cx="425.10" cy="251.24" r="1.6" fill="#e8202a" stroke="#3a0206" stroke-width="0.6"/>
<line x1="417" y1="248.519" x2="427.2" y2="248.519" stroke="#222" stroke-width="0.8" />
<circle cx="440.70" cy="195.91" r="1.6" fill="#5e1a70" stroke="#1e0626" stroke-width="0.45"/>
<circle cx="440.70" cy="204.20" r="1.6" fill="#5e1a70" stroke="#1e0626" stroke-width="0.45"/>
<circle cx="440.70" cy="212.50" r="1.6" fill="#5e1a70" stroke="#1e0626" stroke-width="0.45"/>
<circle cx="440.90" cy="221.26" r="1.6" fill="#5e1a70" stroke="#1e0626" stroke-width="0.45"/>
<circle cx="440.20" cy="223.75" r="1.6" fill="#5e1a70" stroke="#1e0626" stroke-width="0.45"/>
<circle cx="440.40" cy="232.64" r="1.6" fill="#5e1a70" stroke="#1e0626" stroke-width="0.45"/>
<circle cx="441.30" cy="235.60" r="1.6" fill="#5e1a70" stroke="#1e0626" stroke-width="0.45"/>
<circle cx="439.90" cy="238.56" r="1.6" fill="#5e1a70" stroke="#1e0626" stroke-width="0.45"/>
<circle cx="441.20" cy="243.31" r="1.6" fill="#5e1a70" stroke="#1e0626" stroke-width="0.45"/>
<circle cx="438.50" cy="244.49" r="1.6" fill="#5e1a70" stroke="#1e0626" stroke-width="0.45"/>
<circle cx="443.20" cy="245.67" r="1.6" fill="#5e1a70" stroke="#1e0626" stroke-width="0.45"/>
<circle cx="439.70" cy="246.86" r="1.6" fill="#5e1a70" stroke="#1e0626" stroke-width="0.45"/>
<circle cx="442.20" cy="248.04" r="1.6" fill="#5e1a70" stroke="#1e0626" stroke-width="0.45"/>
<circle cx="437.70" cy="248.64" r="1.6" fill="#5e1a70" stroke="#1e0626" stroke-width="0.45"/>
<circle cx="443.90" cy="249.23" r="1.6" fill="#5e1a70" stroke="#1e0626" stroke-width="0.45"/>
<circle cx="439.20" cy="249.82" r="1.6" fill="#5e1a70" stroke="#1e0626" stroke-width="0.45"/>
<circle cx="441.70" cy="250.41" r="1.6" fill="#5e1a70" stroke="#1e0626" stroke-width="0.45"/>
<circle cx="437.90" cy="251.01" r="1.6" fill="#5e1a70" stroke="#1e0626" stroke-width="0.45"/>
<circle cx="443.30" cy="251.24" r="1.6" fill="#5e1a70" stroke="#1e0626" stroke-width="0.45"/>
<circle cx="440.70" cy="251.60" r="1.6" fill="#5e1a70" stroke="#1e0626" stroke-width="0.45"/>
<line x1="434.2" y1="236.66899999999998" x2="446.3" y2="236.66899999999998" stroke="#222" stroke-width="0.8" />
<line x1="437.3" y1="220.79" x2="443.7" y2="220.79" stroke="#222" stroke-width="0.8" />
<line x1="440.7" y1="220.79" x2="440.7" y2="236.66899999999998" stroke="#222" stroke-width="0.6" />
<line x1="460.5" y1="180.737" x2="460.5" y2="240.1055" stroke="#666" stroke-width="0.8" />
<line x1="456.5" y1="180.737" x2="463.8" y2="180.737" stroke="#555" stroke-width="0.9" />
<line x1="456.4" y1="240.1055" x2="463.5" y2="240.1055" stroke="#555" stroke-width="0.9" />
<line x1="454.4" y1="210.83599999999998" x2="466.5" y2="210.83599999999998" stroke="#555" stroke-width="0.9" />
<circle cx="460.10" cy="162.72" r="1.6" fill="#45596e" stroke="#151e28" stroke-width="0.45"/>
<circle cx="460.10" cy="179.31" r="1.6" fill="#45596e" stroke="#151e28" stroke-width="0.45"/>
<circle cx="457.00" cy="198.27" r="1.6" fill="#45596e" stroke="#151e28" stroke-width="0.45"/>
<circle cx="463.50" cy="201.83" r="1.6" fill="#45596e" stroke="#151e28" stroke-width="0.45"/>
<circle cx="459.40" cy="213.68" r="1.6" fill="#45596e" stroke="#151e28" stroke-width="0.45"/>
<circle cx="459.80" cy="218.42" r="1.6" fill="#45596e" stroke="#151e28" stroke-width="0.45"/>
<circle cx="459.40" cy="222.57" r="1.6" fill="#45596e" stroke="#151e28" stroke-width="0.45"/>
<circle cx="457.00" cy="251.60" r="1.6" fill="#45596e" stroke="#151e28" stroke-width="0.45"/>
<circle cx="463.00" cy="249.23" r="1.6" fill="#45596e" stroke="#151e28" stroke-width="0.45"/>
<line x1="409.3" y1="156.4" x2="409.3" y2="251.9" stroke="#231f20" stroke-width="1.0" />
<line x1="406.2" y1="156.79999999999998" x2="409.3" y2="156.79999999999998" stroke="#231f20" stroke-width="0.9" />
<line x1="406.2" y1="180.5" x2="409.3" y2="180.5" stroke="#231f20" stroke-width="0.9" />
<line x1="406.2" y1="204.2" x2="409.3" y2="204.2" stroke="#231f20" stroke-width="0.9" />
<line x1="406.2" y1="227.89999999999998" x2="409.3" y2="227.89999999999998" stroke="#231f20" stroke-width="0.9" />
<line x1="406.2" y1="251.6" x2="409.3" y2="251.6" stroke="#231f20" stroke-width="0.9" />
<line x1="406" y1="251.6" x2="471.9" y2="251.6" stroke="#231f20" stroke-width="1.2" />
<g font-size="8.2" fill="#231f20" text-anchor="end" stroke="#231f20">
<text x="403.3" y="159.9" textLength="8.40" lengthAdjust="spacingAndGlyphs">80</text>
<text x="403.3" y="183.6" textLength="8.40" lengthAdjust="spacingAndGlyphs">60</text>
<text x="403.3" y="207.3" textLength="8.40" lengthAdjust="spacingAndGlyphs">40</text>
<text x="403.3" y="231.0" textLength="8.40" lengthAdjust="spacingAndGlyphs">20</text>
<text x="403.3" y="254.7" textLength="4.20" lengthAdjust="spacingAndGlyphs">0</text>
</g>
<line x1="421.9" y1="157.3" x2="460.7" y2="157.3" stroke="#666" stroke-width="0.8" />
<text x="441.1" y="158" font-size="7.5" text-anchor="middle" fill="#231f20" textLength="5.4" lengthAdjust="spacingAndGlyphs" stroke="#231f20">**</text>
<line x1="421.2" y1="178.7" x2="440.7" y2="178.7" stroke="#666" stroke-width="0.8" />
<text x="430.6" y="176.4" font-size="7" text-anchor="middle" fill="#231f20" stroke="#231f20">ns</text>
<line x1="440.2" y1="171.3" x2="460.4" y2="171.3" stroke="#666" stroke-width="0.8" />
<text x="450.3" y="169.4" font-size="7" text-anchor="middle" fill="#231f20" stroke="#231f20">ns</text>
<text transform="translate(387.7,243.5) rotate(-90)" font-size="8.4" fill="#231f20" textLength="79.7" lengthAdjust="spacingAndGlyphs" stroke="#231f20">%IgM+ (MYC+ B220+)</text>
<text transform="translate(425.8,259.3) rotate(-45)" font-size="7.2" fill="#231f20" text-anchor="end" textLength="25.5" lengthAdjust="spacingAndGlyphs" stroke="#231f20">Tfap4<tspan dy="-2.6" font-size="4.2">+/-</tspan></text>
<text transform="translate(444.5,259.3) rotate(-45)" font-size="7.2" fill="#231f20" text-anchor="end" textLength="43.0" lengthAdjust="spacingAndGlyphs" stroke="#231f20">Tfap4<tspan dy="-2.6" font-size="4.2">+/-</tspan><tspan dy="2.6">Erg</tspan><tspan dy="-2.6" font-size="4.2">+/-</tspan></text>
<text transform="translate(464.8,259.3) rotate(-45)" font-size="7.2" fill="#231f20" text-anchor="end" textLength="17.0" lengthAdjust="spacingAndGlyphs" stroke="#231f20">Erg<tspan dy="-2.6" font-size="4.2">+/-</tspan></text>
</svg>
</body></html>
